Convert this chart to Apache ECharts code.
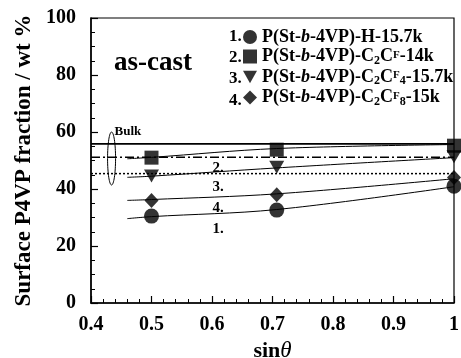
<!DOCTYPE html>
<html>
<head>
<meta charset="utf-8">
<script src="https://cdn.jsdelivr.net/npm/echarts@6/dist/echarts.min.js"></script>
<style>
  html, body { margin: 0; padding: 0; background: #fff; }
  #chart { width: 461px; height: 358px; }
</style>
</head>
<body>
<div id="chart"></div>
<script>
// measured points (sin theta)
const sinTheta = [0.5, 0.707, 1.0];
const h157 = [30.5, 32.6, 41.0];     // 1. circle
const c2cf14 = [51.0, 53.8, 55.2];   // 2. square
const c2cf4 = [44.6, 47.6, 51.3];    // 3. triangle
const c2cf8 = [36.0, 38.0, 44.0];    // 4. diamond

// guide curves drawn through the data
const fitX = [0.46, 0.5, 0.707, 1.0];
const fit1 = [29.6, 30.3, 32.8, 40.8];
const fit2 = [50.6, 51.1, 54.2, 55.6];
const fit3 = [44.1, 44.5, 47.4, 51.0];
const fit4 = [36.0, 36.3, 38.3, 43.6];

// bulk compositions
const bulkX = [0.4, 1.0];
const bulkSolid = 55.8;
const bulkDashDot = 51.1;
const bulkDot = 45.4;

const curveLabels = ['1.', '2.', '3.', '4.'];
const curveLabelX = 0.61;
const curveLabelY = [26.0, 47.5, 40.6, 33.3];

const legendNums = ['1.', '2.', '3.', '4.'];

const serif = '"Liberation Serif", "DejaVu Serif", serif';

function pairs(xs, ys) { return xs.map((x, i) => [x, ys[i]]); }

const chart = echarts.init(document.getElementById('chart'));

const markerBase = {
  type: 'scatter',
  itemStyle: { color: '#000' },
  z: 5,
};
const fitBase = {
  type: 'line',
  showSymbol: false,
  smooth: 0.35,
  lineStyle: { color: '#000', width: 1 },
  silent: true,
};
const bulkBase = {
  type: 'line',
  showSymbol: false,
  silent: true,
};

const legendRich = {
  b: { fontFamily: serif, fontWeight: 'bold', fontSize: 18, color: '#000', lineHeight: 21 },
  i: { fontFamily: serif, fontWeight: 'bold', fontStyle: 'italic', fontSize: 18, color: '#000', lineHeight: 21 },
  sub: { fontFamily: serif, fontWeight: 'bold', fontSize: 12, color: '#000', padding: [8, 0, 0, 0], lineHeight: 12 },
  sup: { fontFamily: serif, fontWeight: 'bold', fontSize: 11, color: '#000', padding: [0, 0, 3, 0], lineHeight: 11 },
};
const legendText = {
  'H': '{b|P(St-}{i|b}{b|-4VP)-H-15.7k}',
  'C2CF': '{b|P(St-}{i|b}{b|-4VP)-C}{sub|2}{b|C}{sup|F}{b|-14k}',
  'C2CF4': '{b|P(St-}{i|b}{b|-4VP)-C}{sub|2}{b|C}{sup|F}{sub|4}{b|-15.7k}',
  'C2CF8': '{b|P(St-}{i|b}{b|-4VP)-C}{sub|2}{b|C}{sup|F}{sub|8}{b|-15k}',
};

chart.setOption({
  animation: false,
  grid: {
    left: 91, right: 7, top: 18, bottom: 55,
    outerBoundsMode: 'none',
    containLabel: false,
    show: true, borderColor: '#000', borderWidth: 1.2,
  },
  legend: {
    orient: 'vertical',
    left: 238, top: 23,
    itemWidth: 14, itemHeight: 14, itemGap: 0.5,
    data: ['H', 'C2CF', 'C2CF4', 'C2CF8'],
    formatter: (name) => legendText[name],
    textStyle: { rich: legendRich },
    selectedMode: false,
  },
  xAxis: {
    type: 'value',
    min: 0.4, max: 1, interval: 0.1,
    name: '{s|sin}{t|θ}',
    nameLocation: 'middle',
    nameGap: 32,
    nameTextStyle: {
      rich: {
        s: { fontFamily: serif, fontWeight: 'bold', fontSize: 22, color: '#000' },
        t: { fontFamily: serif, fontStyle: 'italic', fontSize: 23, color: '#000' },
      },
    },
    axisLine: { lineStyle: { color: '#000', width: 1.5 } },
    axisTick: { inside: true, length: 7, lineStyle: { color: '#000', width: 1.2 } },
    minorTick: { show: true, splitNumber: 5, length: 4, lineStyle: { color: '#000', width: 1 } },
    splitLine: { show: false },
    axisLabel: {
      margin: 12,
      fontFamily: serif, fontWeight: 'bold', fontSize: 20, color: '#000',
      formatter: (v) => (Math.abs(v - 1) < 1e-9 ? '1' : v.toFixed(1)),
    },
  },
  yAxis: {
    type: 'value',
    min: 0, max: 100, interval: 20,
    name: 'Surface P4VP fraction / wt %',
    nameLocation: 'middle',
    nameGap: 53,
    nameTextStyle: { fontFamily: serif, fontWeight: 'bold', fontSize: 23, color: '#000' },
    axisLine: { lineStyle: { color: '#000', width: 1.5 } },
    axisTick: { inside: true, length: 7, lineStyle: { color: '#000', width: 1.2 } },
    minorTick: { show: true, splitNumber: 4, length: 4, lineStyle: { color: '#000', width: 1 } },
    splitLine: { show: false },
    axisLabel: {
      margin: 15,
      fontFamily: serif, fontWeight: 'bold', fontSize: 20, color: '#000',
    },
  },
  series: [
    Object.assign({}, bulkBase, { name: 'bulk1', data: pairs(bulkX, [bulkSolid, bulkSolid]), lineStyle: { color: '#000', width: 1.8 } }),
    Object.assign({}, bulkBase, { name: 'bulk2', data: pairs(bulkX, [bulkDashDot, bulkDashDot]), lineStyle: { color: '#000', width: 1.5, type: [9, 3, 2, 3] } }),
    Object.assign({}, bulkBase, { name: 'bulk3', data: pairs(bulkX, [bulkDot, bulkDot]), lineStyle: { color: '#000', width: 1.5, type: [2, 2] } }),
    Object.assign({}, fitBase, { name: 'fit1', data: pairs(fitX, fit1) }),
    Object.assign({}, fitBase, { name: 'fit2', data: pairs(fitX, fit2) }),
    Object.assign({}, fitBase, { name: 'fit3', data: pairs(fitX, fit3) }),
    Object.assign({}, fitBase, { name: 'fit4', data: pairs(fitX, fit4) }),
    Object.assign({}, markerBase, { name: 'H', symbol: 'circle', symbolSize: 15, data: pairs(sinTheta, h157) }),
    Object.assign({}, markerBase, { name: 'C2CF', symbol: 'rect', symbolSize: 14, data: pairs(sinTheta, c2cf14) }),
    Object.assign({}, markerBase, { name: 'C2CF4', symbol: 'path://M0,0 L10,0 L5,9 Z', symbolSize: [15, 13], data: pairs(sinTheta, c2cf4) }),
    Object.assign({}, markerBase, { name: 'C2CF8', symbol: 'diamond', symbolSize: [14, 15], data: pairs(sinTheta, c2cf8) }),
  ],
});

// annotations placed through the axes
function place() {
  const lbls = curveLabels.map((t, i) => {
    const p = chart.convertToPixel({ gridIndex: 0 }, [curveLabelX, curveLabelY[i]]);
    return {
      type: 'text', x: p[0], y: p[1],
      style: { text: t, fontFamily: serif, fontWeight: 'bold', fontSize: 15, fill: '#000', align: 'center', verticalAlign: 'middle' },
    };
  });
  const nums = legendNums.map((t, i) => ({
    type: 'text', x: 229, y: 36.5 + i * 21.3,
    style: { text: t, fontFamily: serif, fontWeight: 'bold', fontSize: 17, fill: '#000', verticalAlign: 'middle' },
  }));
  const top = chart.convertToPixel({ gridIndex: 0 }, [0.434, 60]);
  const bot = chart.convertToPixel({ gridIndex: 0 }, [0.434, 41.4]);
  chart.setOption({
    graphic: [
      {
        type: 'text', left: 114, top: 50,
        style: { text: 'as-cast', fontFamily: serif, fontWeight: 'bold', fontSize: 27, fill: '#000' },
      },
      {
        type: 'ellipse',
        shape: { cx: top[0], cy: (top[1] + bot[1]) / 2, rx: 4, ry: (bot[1] - top[1]) / 2 },
        style: { fill: 'none', stroke: '#000', lineWidth: 1 },
      },
      {
        type: 'text', x: top[0] + 3, y: top[1],
        style: { text: 'Bulk', fontFamily: serif, fontWeight: 'bold', fontSize: 13, fill: '#000', verticalAlign: 'middle' },
      },
    ].concat(lbls, nums),
  });
}
place();
window.addEventListener('resize', () => { chart.resize(); place(); });
</script>
</body>
</html>
